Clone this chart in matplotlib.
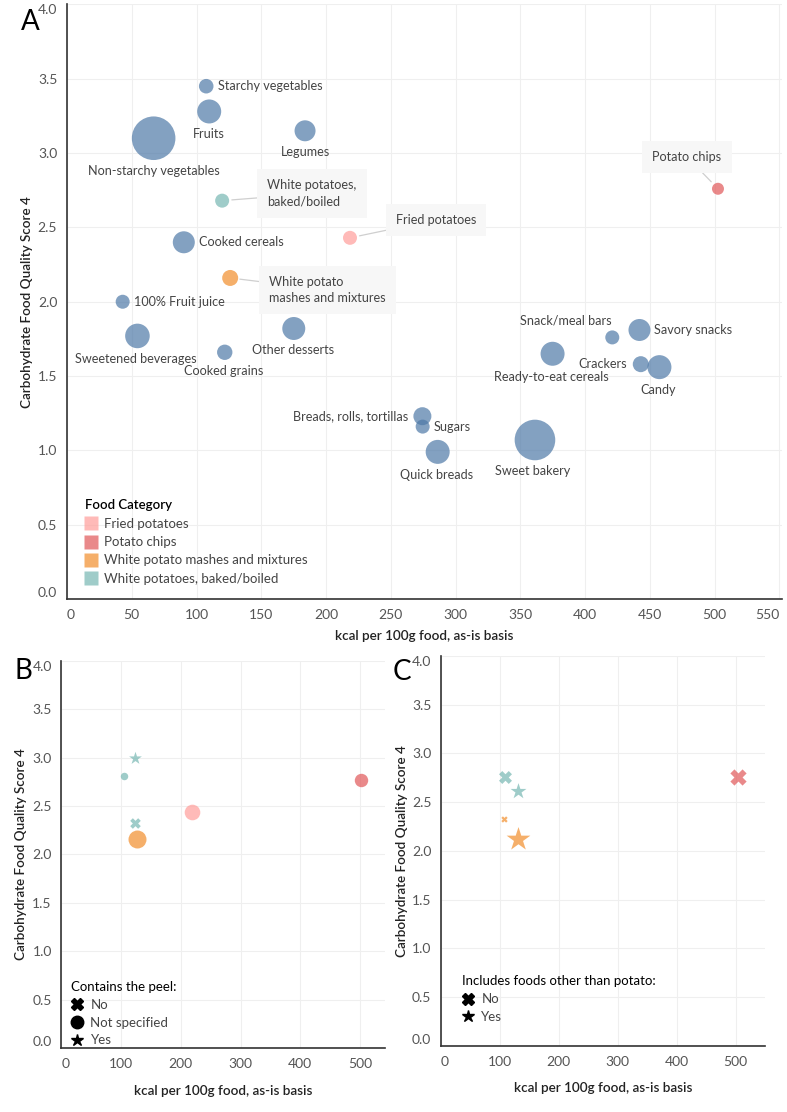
import numpy as np
import matplotlib.pyplot as plt
from matplotlib.lines import Line2D

plt.rcParams["font.family"] = ["Lato", "DejaVu Sans"]

# ---- Panel A: food groups (bubble area ~ weight) ----
foods = ["Starchy vegetables", "Fruits", "Non-starchy vegetables", "Legumes",
         "Cooked cereals", "100% Fruit juice", "Sweetened beverages", "Cooked grains",
         "Other desserts", "Snack/meal bars", "Savory snacks", "Ready-to-eat cereals",
         "Crackers", "Candy", "Breads, rolls, tortillas", "Sugars", "Quick breads",
         "Sweet bakery"]
food_kcal = [107.5, 109.8, 66.9, 183.8, 90.2, 43.0, 54.4, 121.8, 175.1,
             421.0, 442.0, 374.9, 443.0, 457.4, 274.4, 274.6, 286.2, 361.3]
food_cfqs = [3.45, 3.28, 3.10, 3.15, 2.40, 2.00, 1.77, 1.66, 1.82,
             1.76, 1.81, 1.65, 1.58, 1.56, 1.23, 1.16, 0.99, 1.07]
food_weight = [53, 144, 475, 110, 121, 49, 151, 59, 132,
               49, 121, 144, 64, 144, 81, 49, 144, 412]

potato_cats = ["Fried potatoes", "Potato chips",
               "White potato mashes and mixtures", "White potatoes, baked/boiled"]
potato_kcal = [218.5, 502.6, 126.0, 119.8]
potato_cfqs = [2.43, 2.76, 2.16, 2.68]
potato_weight = [49, 36, 64, 49]
potato_notes = ["Fried potatoes", "Potato chips",
                "White potato\nmashes and mixtures", "White potatoes,\nbaked/boiled"]

# ---- Panel B: by peel ----
peel_cat = ["White potatoes, baked/boiled", "White potatoes, baked/boiled",
            "White potatoes, baked/boiled", "White potato mashes and mixtures",
            "Fried potatoes", "Potato chips"]
peel_flag = ["Yes", "Not specified", "No", "Not specified", "Not specified", "Not specified"]
peel_kcal = [123.6, 104.7, 123.6, 126.5, 218.6, 502.2]
peel_cfqs = [3.00, 2.81, 2.32, 2.16, 2.44, 2.77]
peel_weight = [45, 14, 28, 81, 61, 45]

# ---- Panel C: by other foods included ----
mix_cat = ["White potatoes, baked/boiled", "White potatoes, baked/boiled",
           "White potato mashes and mixtures", "White potato mashes and mixtures",
           "Potato chips"]
mix_flag = ["No", "Yes", "No", "Yes", "No"]
mix_kcal = [108.7, 131.3, 106.4, 130.7, 503.7]
mix_cfqs = [2.76, 2.61, 2.33, 2.12, 2.76]
mix_weight = [42, 70, 10, 155, 66]

cat_colors = {"Fried potatoes": "#ff9d9a", "Potato chips": "#e15759",
              "White potato mashes and mixtures": "#f28e2b",
              "White potatoes, baked/boiled": "#76b7b2"}
food_color = "#4e79a7"
ALPHA = 0.7
flag_marker = {"No": "X", "Not specified": "o", "Yes": "*"}

# label placement: (dx px, dy px, ha)
label_place = {
    "Starchy vegetables": (12, 0, "left"), "Fruits": (0, -23, "center"),
    "Non-starchy vegetables": (0, -33, "center"), "Legumes": (0, -21, "center"),
    "Cooked cereals": (15, 0, "left"), "100% Fruit juice": (11, 0, "left"),
    "Sweetened beverages": (-2, -23, "center"), "Cooked grains": (-1, -19, "center"),
    "Other desserts": (-1, -22, "center"), "Snack/meal bars": (-1, 17, "right"),
    "Savory snacks": (15, 0, "left"), "Ready-to-eat cereals": (-1, -23, "center"),
    "Crackers": (-14, 0, "right"), "Candy": (-1, -23, "center"),
    "Breads, rolls, tortillas": (-14, 0, "right"), "Sugars": (11, 0, "left"),
    "Quick breads": (-1, -23, "center"), "Sweet bakery": (-2, -31, "center"),
}
note_place = [(46, 18, "left"), (-31, 32, "center"), (39, -12, "left"), (45, 7, "left")]

LABEL_FS = 9.1
LEG_FS = 9.5
AXIS_FS = 9.7


def area(w):
    # weight is bubble radius^2 in pixels at 100 dpi -> marker area in pt^2
    return np.asarray(w) * (2 * 0.72) ** 2


def style_axes(ax, xmax, xticks):
    ax.set_xlim(0, xmax)
    ax.set_ylim(0, 4.0)
    ax.set_xticks(xticks)
    ax.set_yticks(np.arange(0, 4.01, 0.5))
    ax.yaxis.set_major_formatter("{x:.1f}")
    ax.grid(color="#efefef", lw=0.8)
    ax.set_axisbelow(True)
    for s in ["top", "right"]:
        ax.spines[s].set_visible(False)
    for s in ["left", "bottom"]:
        ax.spines[s].set_color("#333333")
        ax.spines[s].set_linewidth(1.2)
    ax.tick_params(length=0, labelsize=10, labelcolor="#555555")
    ax.tick_params(axis="x", pad=7.5)
    ax.tick_params(axis="y", pad=7)
    yt = ax.yaxis.get_major_ticks()
    yt[0].label1.set_va("bottom")
    yt[-1].label1.set_va("top")
    ax.xaxis.get_major_ticks()[0].label1.set_ha("left")
    ax.set_xlabel("kcal per 100g food, as-is basis", fontsize=AXIS_FS,
                  fontweight="semibold", color="#222222")
    ax.set_ylabel("Carbohydrate Food Quality Score 4", fontsize=AXIS_FS,
                  fontweight="semibold", color="#222222")


fig = plt.figure(figsize=(7.87, 11.12), dpi=100)
axA = fig.add_axes([0.0851, 0.4613, 0.9085, 0.5347])
axB = fig.add_axes([0.0781, 0.0576, 0.4111, 0.3482])
axC = fig.add_axes([0.5604, 0.0594, 0.4116, 0.3507])

# ---- A ----
style_axes(axA, 552, np.arange(0, 551, 50))
axA.xaxis.get_major_ticks()[-1].label1.set_ha("right")
axA.scatter(food_kcal, food_cfqs, s=area(food_weight), color=food_color,
            alpha=ALPHA, linewidths=0, zorder=3)
for name, x, y in zip(foods, food_kcal, food_cfqs):
    dx, dy, ha = label_place[name]
    axA.annotate(name, (x, y), xytext=(dx, dy), textcoords="offset pixels",
                 ha=ha, va="center", fontsize=LABEL_FS, color="#444444", zorder=4)
axA.scatter(potato_kcal, potato_cfqs, s=area(potato_weight),
            color=[cat_colors[c] for c in potato_cats], alpha=ALPHA,
            linewidths=0, zorder=3)
for note, x, y, (dx, dy, ha) in zip(potato_notes, potato_kcal, potato_cfqs, note_place):
    axA.annotate(note, (x, y), xytext=(dx, dy), textcoords="offset pixels",
                 ha=ha, va="center", fontsize=LABEL_FS, color="#444444",
                 linespacing=1.45, zorder=4,
                 bbox=dict(boxstyle="square,pad=0.8", fc="#f7f7f7", ec="none"),
                 arrowprops=dict(arrowstyle="-", color="#cfcfcf", lw=0.9,
                                 shrinkA=0, shrinkB=7))
handlesA = [Line2D([], [], marker="s", ls="", ms=10.5, color=cat_colors[c],
                   alpha=ALPHA, mec="none") for c in potato_cats]
legA = axA.legend(handlesA, potato_cats, title="Food Category", loc="upper left",
                  bbox_to_anchor=(0.012, 0.183), frameon=False, fontsize=LEG_FS,
                  title_fontsize=LEG_FS, alignment="left", handlelength=1.0,
                  handletextpad=0.45, labelspacing=0.48, borderaxespad=0.3)
legA.get_title().set_fontweight("semibold")
for t in legA.get_texts():
    t.set_color("#444444")
axA.xaxis.set_label_coords(0.5, -0.052)
axA.yaxis.set_label_coords(-0.0476, 0.5)

# ---- B ----
style_axes(axB, 542, np.arange(0, 501, 100))
for c, f, x, y, w in zip(peel_cat, peel_flag, peel_kcal, peel_cfqs, peel_weight):
    axB.scatter(x, y, s=area(w), marker=flag_marker[f], color=cat_colors[c],
                alpha=ALPHA, linewidths=0, zorder=3)
peel_levels = ["No", "Not specified", "Yes"]
handlesB = [Line2D([], [], marker=flag_marker[k], ls="", ms=9, color="black")
            for k in peel_levels]
legB = axB.legend(handlesB, peel_levels, title="Contains the peel:", loc="lower left",
                  bbox_to_anchor=(0.0, -0.02), frameon=False, fontsize=LEG_FS,
                  title_fontsize=LEG_FS, alignment="left", handlelength=1.0,
                  handletextpad=0.5, labelspacing=0.45, borderaxespad=0.3)
for t in legB.get_texts():
    t.set_color("#444444")
axB.xaxis.set_label_coords(0.5, -0.095)
axB.yaxis.set_label_coords(-0.106, 0.5)

# ---- C ----
style_axes(axC, 550, np.arange(0, 501, 100))
for c, f, x, y, w in zip(mix_cat, mix_flag, mix_kcal, mix_cfqs, mix_weight):
    axC.scatter(x, y, s=area(w), marker=flag_marker[f], color=cat_colors[c],
                alpha=ALPHA, linewidths=0, zorder=3)
mix_levels = ["No", "Yes"]
handlesC = [Line2D([], [], marker=flag_marker[k], ls="", ms=9, color="black")
            for k in mix_levels]
legC = axC.legend(handlesC, mix_levels, title="Includes foods other than potato:",
                  loc="lower left", bbox_to_anchor=(0.035, 0.035), frameon=False,
                  fontsize=LEG_FS, title_fontsize=LEG_FS, alignment="left",
                  handlelength=1.0, handletextpad=0.5, labelspacing=0.45,
                  borderaxespad=0.3)
for t in legC.get_texts():
    t.set_color("#444444")
axC.xaxis.set_label_coords(0.5, -0.0915)
axC.yaxis.set_label_coords(-0.101, 0.5)

# panel letters
fig.text(30.5 / 787, 1 - 22 / 1112, "A", fontsize=20, ha="center", va="center")
fig.text(23.7 / 787, 1 - 671 / 1112, "B", fontsize=20, ha="center", va="center")
fig.text(401.5 / 787, 1 - 671.5 / 1112, "C", fontsize=20, ha="center", va="center")

fig.savefig("out.png", dpi=100)
